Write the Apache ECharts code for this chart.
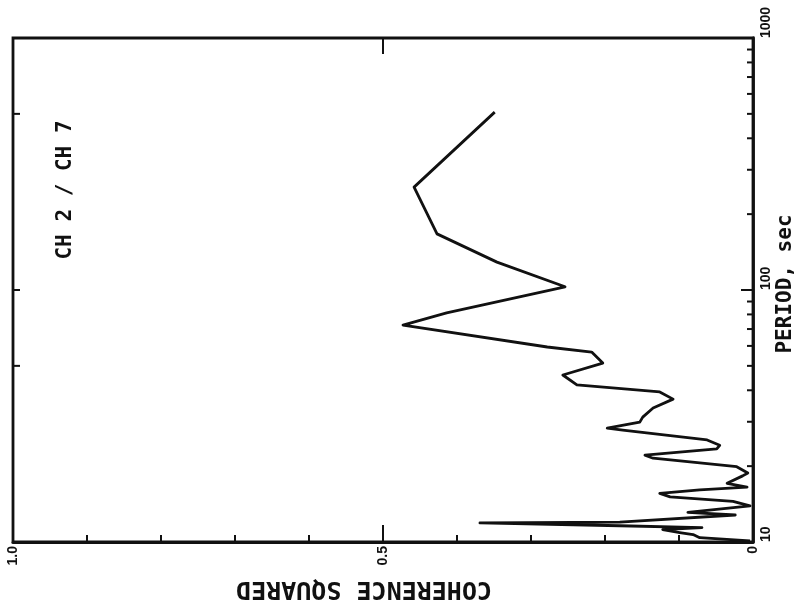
<!DOCTYPE html>
<html>
<head>
<meta charset="utf-8">
<script src="https://cdn.jsdelivr.net/npm/echarts@6/dist/echarts.min.js"></script>
<style>
html,body{margin:0;padding:0;background:#fff;}
#chart{width:799px;height:614px;}
</style>
</head>
<body>
<div id="chart"></div>
<script>
// Period (sec) along the curve, from short to long periods
const periods = [10.1, 10.4, 10.7, 10.9, 11.2, 11.4, 11.6, 11.9, 12.0, 12.8,
  13.1, 13.9, 14.5, 15.1, 15.6, 16.1, 16.5, 17.1, 18.3, 18.8,
  19.9, 21.5, 22.1, 23.4, 24.2, 25.4, 27.8, 28.3, 29.9, 31.3,
  34.0, 36.9, 39.4, 42.0, 46.0, 51.3, 56.7, 59.4, 72.6, 81.1,
  103, 129, 167, 256, 508];
// Coherence squared at each period
const coherence = [0.004, 0.072, 0.081, 0.099, 0.122, 0.069, 0.180, 0.369, 0.180, 0.024,
  0.088, 0.004, 0.027, 0.112, 0.126, 0.072, 0.008, 0.035, 0.014, 0.007,
  0.022, 0.135, 0.146, 0.049, 0.045, 0.062, 0.176, 0.197, 0.153, 0.149,
  0.135, 0.108, 0.126, 0.238, 0.257, 0.203, 0.218, 0.278, 0.473, 0.414,
  0.254, 0.346, 0.427, 0.458, 0.349];

const coherenceLabelValues = [0, 0.5, 1.0];
const coherenceLabelTexts = ['0', '0.5', '1.0'];
const periodLabelValues = [10, 100, 1000];
const periodLabelTexts = ['10', '100', '1000'];
const periodMinorTicks = [20, 30, 40, 50, 60, 70, 80, 90, 200, 300, 400, 500, 600, 700, 800, 900];
const leftEdgeTicks = [50, 100, 500];
const halfCoherenceTick = [0.5];

const xTitle = 'PERIOD, sec';
const yTitle = 'COHERENCE SQUARED';
const panelLabel = 'CH 2 / CH 7';

const INK = '#111';
const lineData = periods.map((p, i) => [coherence[i], p]);

function tickSeries(data, dx, dy) {
  return {
    type: 'custom',
    coordinateSystem: 'cartesian2d',
    clip: false,
    silent: true,
    z: 5,
    data: data,
    renderItem: function (params, api) {
      const pt = api.coord([api.value(0), api.value(1)]);
      return {
        type: 'line',
        shape: { x1: pt[0], y1: pt[1], x2: pt[0] + dx, y2: pt[1] + dy },
        style: { stroke: INK, lineWidth: 2 }
      };
    }
  };
}

const chart = echarts.init(document.getElementById('chart'), null, { renderer: 'canvas' });
chart.setOption({
  backgroundColor: '#fff',
  animation: false,
  grid: {
    left: 13, right: 46, top: 38, bottom: 72,
    containLabel: false,
    show: true, borderColor: INK, borderWidth: 2.8, backgroundColor: 'transparent'
  },
  xAxis: {
    type: 'value', min: 0, max: 1, interval: 0.1, inverse: true, position: 'bottom',
    axisLine: { show: true, lineStyle: { color: INK, width: 2.8 } },
    axisTick: { show: true, inside: true, length: 7, lineStyle: { color: INK, width: 2 } },
    splitLine: { show: false },
    axisLabel: {
      show: true, rotate: 90, align: 'right', verticalAlign: 'middle', margin: 4,
      color: INK, fontSize: 14, fontWeight: 'bold', fontFamily: 'Liberation Sans',
      formatter: function (v) {
        const i = coherenceLabelValues.findIndex(c => Math.abs(c - v) < 1e-9);
        return i >= 0 ? coherenceLabelTexts[i] : '';
      }
    }
  },
  yAxis: {
    type: 'log', logBase: 10, min: 10, max: 1000, position: 'right',
    axisLine: { show: true, lineStyle: { color: INK, width: 2.8 } },
    axisTick: { show: true, inside: true, length: 12, lineStyle: { color: INK, width: 2 } },
    minorTick: { show: false },
    splitLine: { show: false },
    axisLabel: {
      show: true, rotate: 90, align: 'left', verticalAlign: 'middle', margin: 13,
      color: INK, fontSize: 14, fontWeight: 'bold', fontFamily: 'Liberation Sans',
      formatter: function (v) {
        const i = periodLabelValues.findIndex(p => Math.abs(p - v) < 1e-6 * p);
        return i >= 0 ? periodLabelTexts[i] : '';
      }
    }
  },
  series: [
    {
      type: 'line',
      data: lineData,
      showSymbol: false,
      symbol: 'none',
      lineStyle: { color: INK, width: 2.8, join: 'round' },
      z: 3
    },
    tickSeries(periodMinorTicks.map(p => [0, p]), -6, 0),
    tickSeries(leftEdgeTicks.map(p => [1, p]), 7, 0),
    tickSeries(halfCoherenceTick.map(c => [c, 10]), 0, -17),
    tickSeries(halfCoherenceTick.map(c => [c, 1000]), 0, 16)
  ],
  graphic: [
    {
      type: 'text', x: 364, y: 588, rotation: Math.PI,
      style: { text: yTitle, fill: INK, fontSize: 25, fontWeight: 'bold', fontFamily: 'DejaVu Sans Mono', align: 'center', verticalAlign: 'middle' }
    },
    {
      type: 'text', x: 786, y: 284, rotation: Math.PI / 2,
      style: { text: xTitle, fill: INK, fontSize: 21, fontWeight: 'bold', fontFamily: 'DejaVu Sans Mono', align: 'center', verticalAlign: 'middle' }
    },
    {
      type: 'text', x: 66, y: 190, rotation: Math.PI / 2,
      style: { text: panelLabel, fill: INK, fontSize: 21, fontWeight: 'bold', fontFamily: 'DejaVu Sans Mono', align: 'center', verticalAlign: 'middle' }
    }
  ]
});
</script>
</body>
</html>
